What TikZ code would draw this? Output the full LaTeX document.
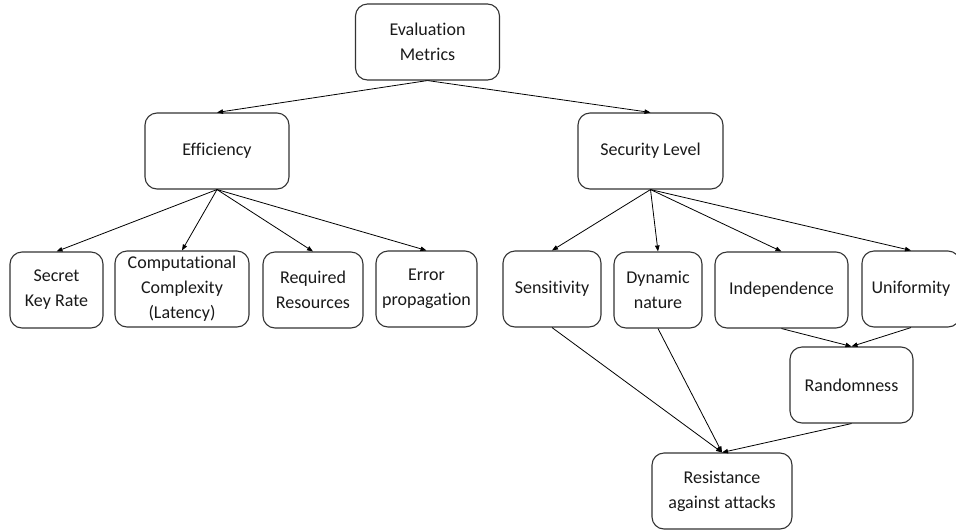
\documentclass[tikz,border=0pt]{standalone}
\usepackage{fontspec}
\setmainfont{Carlito}[Ligatures=NoCommon]
\usetikzlibrary{arrows.meta}
\begin{document}
\begin{tikzpicture}[x=1pt,y=-1pt,
  box/.style={draw=black!80, line width=1.1pt, rounded corners=12pt,
    align=center, inner sep=0pt, text=black!90,
    font=\fontsize{18}{25}\selectfont},
  link/.style={draw=black, line width=0.8pt,
    -{Triangle[length=6pt,width=4.5pt]}}
]
\useasboundingbox (0,0) rectangle (956,531);

% top level
\node[box, minimum width=144pt, minimum height=76pt] (em) at (427.5,42) {Evaluation\\Metrics};

% second level
\node[box, minimum width=144pt, minimum height=76pt] (eff) at (217,151) {Efficiency};
\node[box, minimum width=145pt, minimum height=76pt] (sec) at (650.5,151) {Security Level};

% efficiency criteria
\node[box, minimum width=93pt, minimum height=76pt] (skr) at (56.5,290) {Secret\\Key Rate};
\node[box, minimum width=134pt, minimum height=76pt] (cc) at (182,289) {Computational\\Complexity\\(Latency)};
\node[box, minimum width=100pt, minimum height=76pt] (rr) at (313,290) {Required\\Resources};
\node[box, minimum width=101pt, minimum height=76pt] (ep) at (426.5,289) {Error\\propagation};

% security criteria
\node[box, minimum width=98pt, minimum height=76pt] (sen) at (552,289) {Sensitivity};
\node[box, minimum width=88pt, minimum height=76pt] (dyn) at (658,290) {Dynamic\\nature};
\node[box, minimum width=133pt, minimum height=76pt] (ind) at (781.5,290) {Independence};
\node[box, minimum width=98pt, minimum height=76pt] (uni) at (911,289) {Uniformity};
\node[box, minimum width=123pt, minimum height=76pt] (rand) at (851.5,385) {Randomness};
\node[box, minimum width=140pt, minimum height=76pt] (res) at (722,491) {Resistance\\against attacks};

% connectors
\draw[link] (em.south) -- (eff.north);
\draw[link] (em.south) -- (sec.north);

\draw[link] (eff.south) -- (skr.north);
\draw[link] (eff.south) -- (cc.north);
\draw[link] (eff.south) -- (rr.north);
\draw[link] (eff.south) -- (ep.north);

\draw[link] (sec.south) -- (sen.north);
\draw[link] (sec.south) -- (dyn.north);
\draw[link] (sec.south) -- (ind.north);
\draw[link] (sec.south) -- (uni.north);

\draw[link] (ind.south) -- (rand.north);
\draw[link] (uni.south) -- (rand.north);

\draw[link] (sen.south) -- (res.north);
\draw[link] (dyn.south) -- (res.north);
\draw[link] (rand.south) -- (res.north);
\end{tikzpicture}
\end{document}
